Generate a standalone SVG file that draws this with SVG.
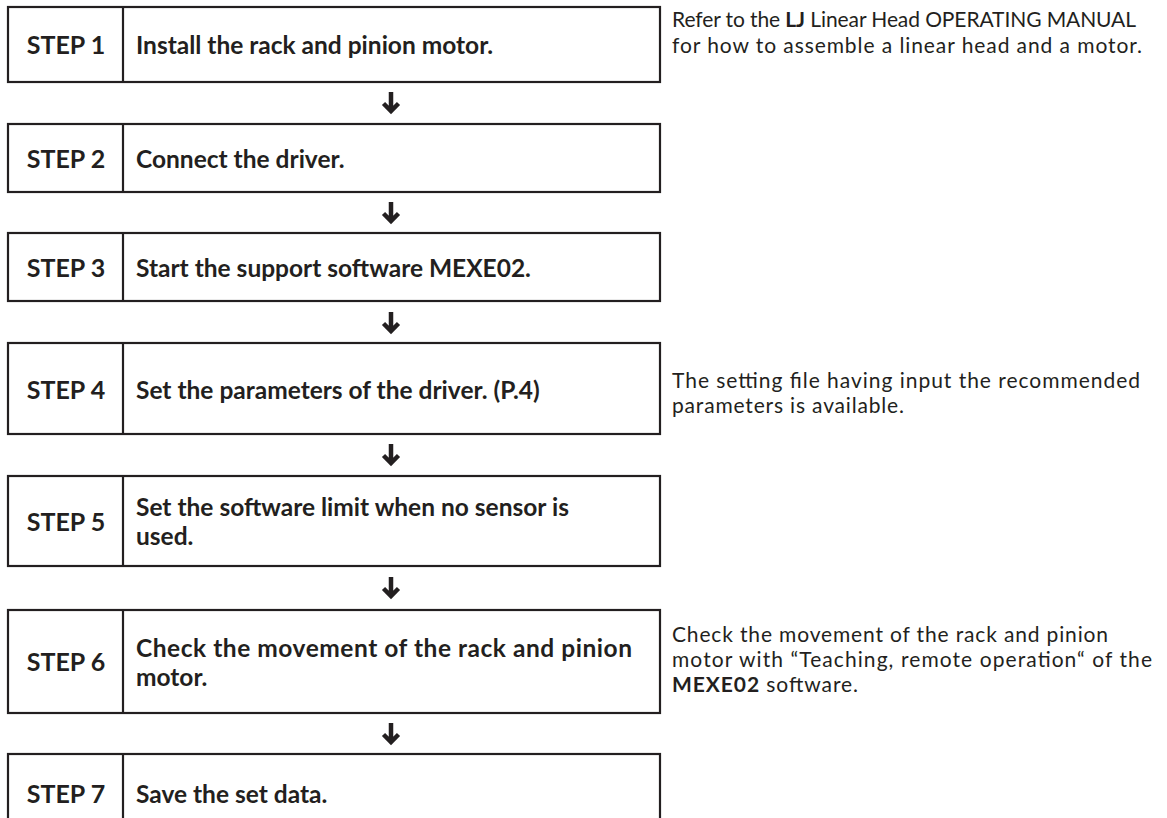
<svg xmlns="http://www.w3.org/2000/svg" width="1167" height="818" viewBox="0 0 1167 818">
<style>
.box{fill:#fff;stroke:#231f20;stroke-width:2.2}
.div{stroke:#231f20;stroke-width:2.2}
.lbl{font-family:Lato,"Open Sans",sans-serif;font-weight:700;font-size:25px;fill:#231f20;text-anchor:middle;dominant-baseline:central}
.txt{font-family:Lato,"Open Sans",sans-serif;font-weight:700;font-size:24.5px;fill:#231f20;dominant-baseline:central}
.note{font-family:Lato,"Open Sans",sans-serif;font-size:21px;fill:#231f20;dominant-baseline:central}
.arr{fill:none;stroke:#231f20;stroke-width:4.5;stroke-linejoin:miter;stroke-miterlimit:8}
</style>
<rect width="1167" height="818" fill="#fff"/>
<g id="connectors">
<path class="arr" d="M391,92v20M383.5,103.5l7.5,7.5l7.5,-7.5"/>
<path class="arr" d="M391,202v20M383.5,213.5l7.5,7.5l7.5,-7.5"/>
<path class="arr" d="M391,312v20M383.5,323.5l7.5,7.5l7.5,-7.5"/>
<path class="arr" d="M391,444v20M383.5,455.5l7.5,7.5l7.5,-7.5"/>
<path class="arr" d="M391,577v20M383.5,588.5l7.5,7.5l7.5,-7.5"/>
<path class="arr" d="M391,723v20M383.5,734.5l7.5,7.5l7.5,-7.5"/>
</g>
<g id="step1">
<rect class="box" x="8" y="7" width="652" height="75"/>
<line class="div" x1="123" y1="7" x2="123" y2="82"/>
<text class="lbl" x="66" y="44">STEP 1</text>
<text class="txt" x="136" y="44">Install the rack and pinion motor.</text>
</g>
<g id="step2">
<rect class="box" x="8" y="124" width="652" height="68"/>
<line class="div" x1="123" y1="124" x2="123" y2="192"/>
<text class="lbl" x="66" y="158">STEP 2</text>
<text class="txt" x="136" y="158">Connect the driver.</text>
</g>
<g id="step3">
<rect class="box" x="8" y="233" width="652" height="68"/>
<line class="div" x1="123" y1="233" x2="123" y2="301"/>
<text class="lbl" x="66" y="267">STEP 3</text>
<text class="txt" x="136" y="267">Start the support software MEXE02.</text>
</g>
<g id="step4">
<rect class="box" x="8" y="343" width="652" height="91"/>
<line class="div" x1="123" y1="343" x2="123" y2="434"/>
<text class="lbl" x="66" y="389">STEP 4</text>
<text class="txt" x="136" y="389">Set the parameters of the driver. (P.4)</text>
</g>
<g id="step5">
<rect class="box" x="8" y="476" width="652" height="90"/>
<line class="div" x1="123" y1="476" x2="123" y2="566"/>
<text class="lbl" x="66" y="521">STEP 5</text>
<text class="txt" x="136" y="506">Set the software limit when no sensor is</text>
<text class="txt" x="136" y="535">used.</text>
</g>
<g id="step6">
<rect class="box" x="8" y="610" width="652" height="103"/>
<line class="div" x1="123" y1="610" x2="123" y2="713"/>
<text class="lbl" x="66" y="661">STEP 6</text>
<text class="txt" x="136" y="647" textLength="496" lengthAdjust="spacing">Check the movement of the rack and pinion</text>
<text class="txt" x="136" y="676">motor.</text>
</g>
<g id="step7">
<rect class="box" x="8" y="754" width="652" height="90"/>
<line class="div" x1="123" y1="754" x2="123" y2="844"/>
<text class="lbl" x="66" y="793">STEP 7</text>
<text class="txt" x="136" y="793">Save the set data.</text>
</g>
<g id="notes">
<text class="note" x="672" y="18" textLength="464" lengthAdjust="spacing">Refer to the <tspan font-weight="700">LJ</tspan> Linear Head OPERATING MANUAL</text>
<text class="note" x="672" y="44" textLength="470" lengthAdjust="spacing">for how to assemble a linear head and a motor.</text>
<text class="note" x="672" y="379" textLength="468" lengthAdjust="spacing">The setting file having input the recommended</text>
<text class="note" x="672" y="404" textLength="232" lengthAdjust="spacing">parameters is available.</text>
<text class="note" x="672" y="633" textLength="436" lengthAdjust="spacing">Check the movement of the rack and pinion</text>
<text class="note" x="672" y="658" textLength="480" lengthAdjust="spacing">motor with “Teaching, remote operation“ of the</text>
<text class="note" x="672" y="683" textLength="186" lengthAdjust="spacing"><tspan font-weight="700">MEXE02</tspan> software.</text>
</g>
</svg>
